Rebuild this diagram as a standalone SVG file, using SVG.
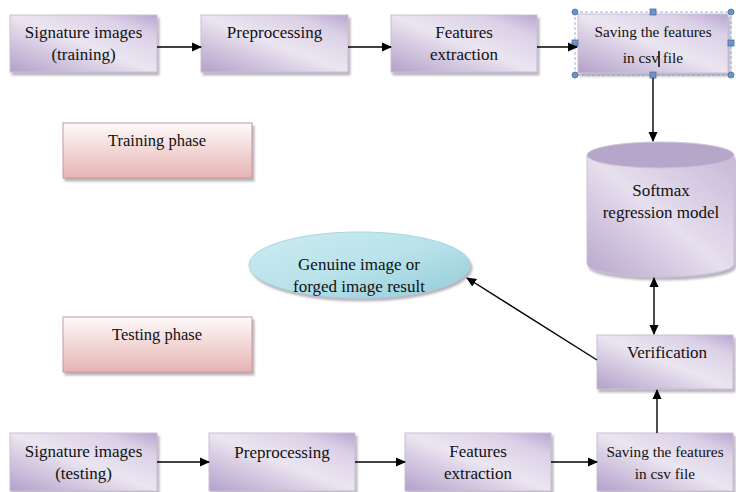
<svg xmlns="http://www.w3.org/2000/svg" width="736" height="492" viewBox="0 0 736 492">
<defs>
<linearGradient id="gBox" x1="0" y1="1" x2="1" y2="0">
<stop offset="0" stop-color="#b3a0c9"/>
<stop offset="0.5" stop-color="#ebe5f1"/>
<stop offset="0.8" stop-color="#dbd1e7"/>
<stop offset="1" stop-color="#b8a5ce"/>
</linearGradient>
<linearGradient id="gPink" x1="0" y1="0" x2="0" y2="1">
<stop offset="0" stop-color="#fefafa"/>
<stop offset="1" stop-color="#e6b3b3"/>
</linearGradient>
<linearGradient id="gEll" x1="0" y1="0" x2="1" y2="1">
<stop offset="0" stop-color="#cdebf1"/>
<stop offset="0.5" stop-color="#b9e2ea"/>
<stop offset="1" stop-color="#92ccd8"/>
</linearGradient>
<linearGradient id="gCyl" x1="0" y1="1" x2="1" y2="0">
<stop offset="0" stop-color="#b8a6cc"/>
<stop offset="0.5" stop-color="#e6dfee"/>
<stop offset="1" stop-color="#c7b9d8"/>
</linearGradient>
<filter id="sh" x="-10%" y="-10%" width="125%" height="130%">
<feDropShadow dx="2" dy="3" stdDeviation="1.2" flood-color="#807888" flood-opacity="0.55"/>
</filter>
<marker id="ah" viewBox="0 0 10 10" refX="9" refY="5" markerWidth="10" markerHeight="10" markerUnits="userSpaceOnUse" orient="auto-start-reverse">
<path d="M0,0.5 L10,5 L0,9.5 z" fill="#000"/>
</marker>
</defs>
<style>
.box{fill:url(#gBox);stroke:#c9c0d3;stroke-width:1;filter:url(#sh)}
.pink{fill:url(#gPink);stroke:#c89a9a;stroke-width:1;filter:url(#sh)}
text{font-family:'Liberation Serif','DejaVu Serif',serif;font-size:17px;fill:#111;text-anchor:middle}
.ts{font-size:15.3px}
.tp{font-size:16.5px}
.c{stroke:#000;stroke-width:1.4;fill:none}
.ca{stroke:#000;stroke-width:1.4;fill:none;marker-end:url(#ah)}
.hd{fill:#6f93c8;stroke:#4a6fa5;stroke-width:0.8}
</style>
<rect width="736" height="492" fill="#fff"/>

<g id="sig-train"><rect class="box" x="10" y="15" width="147" height="57"/><text x="83.5" y="38">Signature images</text><text x="83.5" y="60">(training)</text></g>
<g id="pre-train"><rect class="box" x="201" y="15" width="147" height="57"/><text x="274.5" y="38">Preprocessing</text></g>
<g id="feat-train"><rect class="box" x="391" y="15" width="146" height="57"/><text x="464" y="38">Features</text><text x="464" y="60">extraction</text></g>
<g id="save-train"><rect class="box" x="578" y="14" width="150" height="59"/><text class="ts" x="653" y="37">Saving the features</text><text class="ts" x="653" y="63">in csv file</text>
<line x1="659" y1="51" x2="659" y2="67" stroke="#000" stroke-width="1.5"/>
<rect x="575" y="12" width="156" height="63" fill="none" stroke="#7f9cc7" stroke-width="0.8" stroke-dasharray="3,2"/>
<circle class="hd" cx="575" cy="12" r="3"/><circle class="hd" cx="731" cy="12" r="3"/><circle class="hd" cx="575" cy="75" r="3"/><circle class="hd" cx="731" cy="75" r="3"/>
<rect class="hd" x="650" y="9" width="6" height="6"/><rect class="hd" x="650" y="72" width="6" height="6"/><rect class="hd" x="572" y="40" width="6" height="6"/><rect class="hd" x="728" y="40" width="6" height="6"/>
</g>

<g id="training-phase"><rect class="pink" x="63" y="123" width="189" height="55"/><text class="tp" x="157" y="146">Training phase</text></g>
<g id="testing-phase"><rect class="pink" x="63" y="317" width="189" height="55"/><text class="tp" x="157" y="340">Testing phase</text></g>

<g id="softmax">
<path d="M587,155 L587,264 A73.5,13 0 0 0 734,264 L734,155 Z" fill="url(#gCyl)" stroke="#cbc2d6" stroke-width="1" filter="url(#sh)"/>
<ellipse cx="660.5" cy="155" rx="73.5" ry="13" fill="#b6a6ca" stroke="#cbc2d6" stroke-width="1"/>
<text x="661" y="196">Softmax</text><text x="661" y="218">regression model</text>
</g>

<g id="result"><ellipse cx="359.5" cy="265" rx="110.5" ry="33" fill="url(#gEll)" stroke="#a6d4de" stroke-width="1" filter="url(#sh)"/><text x="359" y="270">Genuine image or</text><text x="359" y="292">forged image result</text></g>

<g id="verification"><rect class="box" x="597" y="335" width="136" height="54"/><text x="667" y="358">Verification</text></g>

<g id="sig-test"><rect class="box" x="10" y="433" width="147" height="58"/><text x="83.5" y="457">Signature images</text><text x="83.5" y="479">(testing)</text></g>
<g id="pre-test"><rect class="box" x="209" y="433" width="146" height="58"/><text x="282" y="458">Preprocessing</text></g>
<g id="feat-test"><rect class="box" x="405" y="433" width="146" height="58"/><text x="478" y="457">Features</text><text x="478" y="479">extraction</text></g>
<g id="save-test"><rect class="box" x="597" y="433" width="136" height="58"/><text class="ts" x="665" y="457">Saving the features</text><text class="ts" x="665" y="479">in csv file</text></g>

<g id="connectors">
<line class="ca" x1="157" y1="47" x2="201" y2="47"/>
<line class="ca" x1="348" y1="47" x2="391" y2="47"/>
<line class="ca" x1="537" y1="47" x2="577" y2="47"/>
<line class="ca" x1="653" y1="78" x2="653" y2="141"/>
<line class="ca" x1="654" y1="278" x2="654" y2="334" marker-start="url(#ah)"/>
<line class="ca" x1="597" y1="360" x2="467" y2="278"/>
<line class="ca" x1="657" y1="433" x2="657" y2="390"/>
<line class="ca" x1="157" y1="462" x2="209" y2="462"/>
<line class="ca" x1="355" y1="462" x2="405" y2="462"/>
<line class="ca" x1="551" y1="462" x2="597" y2="462"/>
</g>
</svg>
